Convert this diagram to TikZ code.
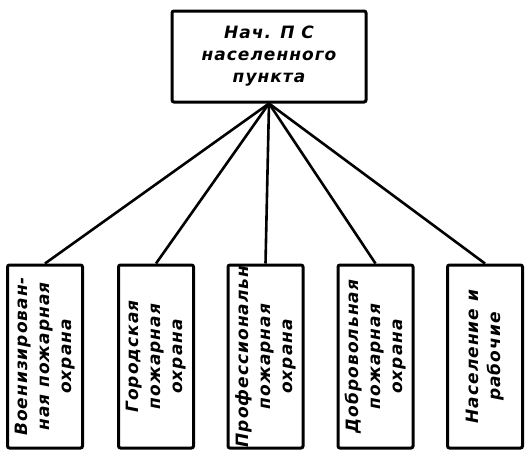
\documentclass[tikz,border=0pt]{standalone}
\usepackage{fontspec}
\newfontfamily\schemafont{DejaVu Sans}[LetterSpace=6]
\begin{document}
\begin{tikzpicture}[x=1pt, y=-1pt,
        chief/.style={draw, line width=3pt, rounded corners=2pt, minimum width=194pt, minimum height=91pt, inner sep=0pt, align=center, font=\schemafont\bfseries\itshape\fontsize{17}{22}\selectfont},
        unit/.style={chief, rotate=90, minimum width=183pt, minimum height=75pt},
        link/.style={line width=2.6pt}]
        \useasboundingbox (0,0) rectangle (527,453);

        \node[chief] (top) at (269,56.5) {Нач. П С\\населенного\\пункта};
        \node[unit] (u1) at (45,356.5) {Военизирован-\\ная пожарная\\охрана};
        \node[unit] (u2) at (156,356.5) {Городская\\пожарная\\охрана};
        \node[unit] (u3) at (265.5,356.5) {Профессиональн\\пожарная\\охрана};
        \node[unit] (u4) at (375.5,356.5) {Добровольная\\пожарная\\охрана};
        \node[unit] (u5) at (485,356.5) {Население и\\рабочие};

        \draw[link] (top.south) -- (u1.east);
        \draw[link] (top.south) -- (u2.east);
        \draw[link] (top.south) -- (u3.east);
        \draw[link] (top.south) -- (u4.east);
        \draw[link] (top.south) -- (u5.east);
    \end{tikzpicture}
\end{document}
